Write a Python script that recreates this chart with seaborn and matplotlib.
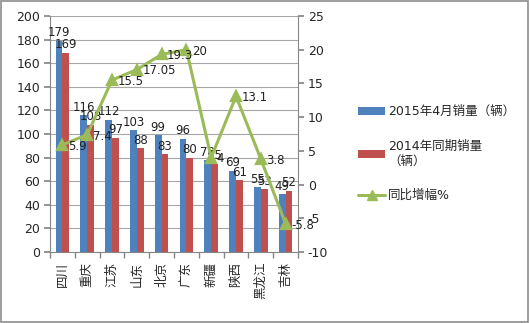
import matplotlib
matplotlib.use("Agg")
import matplotlib.pyplot as plt
import seaborn as sns
import pandas as pd
from matplotlib.patches import Rectangle
from matplotlib.lines import Line2D
from matplotlib.patches import Patch

cities = ["四川", "重庆", "江苏", "山东", "北京", "广东", "新疆", "陕西", "黑龙江", "吉林"]
sales_2015 = [179, 116, 112, 103, 99, 96, 78, 69, 55, 49]
sales_2014 = [169, 108, 97, 88, 83, 80, 75, 61, 53, 52]
growth = [5.9, 7.4, 15.5, 17.05, 19.3, 20, 4, 13.1, 3.8, -5.8]
growth_labels = ["5.9", "7.4", "15.5", "17.05", "19.3", "20", "4", "13.1", "3.8", "-5.8"]
series_names = ["2015年4月销量（辆）", "2014年同期销量\n（辆）", "同比增幅%"]

blue = "#4F81BD"
red = "#C0504D"
green = "#9BBB59"

sns.set_theme(style="white")
plt.rcParams["font.family"] = ["DejaVu Sans", "Noto Sans CJK SC"]
plt.rcParams["axes.unicode_minus"] = False

df = pd.DataFrame({
    "city": cities * 2,
    "value": sales_2015 + sales_2014,
    "series": [series_names[0]] * len(cities) + [series_names[1]] * len(cities),
})

fig = plt.figure(figsize=(5.30, 3.23), dpi=100)
ax = fig.add_axes([50 / 530, 1 - 252 / 323, 248 / 530, 236 / 323])

sns.barplot(data=df, x="city", y="value", hue="series", order=cities,
            hue_order=series_names[:2], palette=[blue, red], width=0.55,
            linewidth=0, saturation=1, ax=ax, legend=False)

fs = 8.5
for cont in ax.containers:
    ax.bar_label(cont, fontsize=fs, padding=1, color="#222222")

ax.set_ylim(0, 200)
ax.set_yticks(range(0, 201, 20))
ax.set_xlim(-0.5, len(cities) - 0.5)
ax.set_xlabel("")
ax.set_ylabel("")
ax.yaxis.grid(True, color="#A6A6A6", linewidth=0.8)
ax.set_axisbelow(True)
ax.set_xticks(range(len(cities)))
ax.set_xticklabels(cities, rotation=90, fontsize=fs + 0.5, va="top",
                   family=["Noto Sans CJK SC", "DejaVu Sans"])
ax.set_xticks([i + 0.5 for i in range(-1, len(cities))], minor=True)
ax.tick_params(axis="x", which="major", length=0, pad=7)
ax.tick_params(axis="x", which="minor", length=4, color="#868686", direction="out", bottom=True)
ax.tick_params(axis="y", length=4, color="#868686", direction="out", left=True, labelsize=fs + 0.5, pad=3)
for s in ["top", "right"]:
    ax.spines[s].set_visible(False)
for s in ["left", "bottom"]:
    ax.spines[s].set_color("#868686")
    ax.spines[s].set_linewidth(0.8)

ax2 = ax.twinx()
sns.pointplot(x=cities, y=growth, order=cities, color=green, markers="^",
              linestyles="-", ax=ax2, markersize=7, linewidth=2.2)
ax2.set_ylim(-10, 25)
ax2.set_yticks(range(-10, 26, 5))
ax2.set_xlim(-0.5, len(cities) - 0.5)
ax2.grid(False)
for i, (g, t) in enumerate(zip(growth, growth_labels)):
    ax2.annotate(t, (i, g), xytext=(4, -1), textcoords="offset points",
                 ha="left", va="center", fontsize=fs, color="#222222")
ax2.tick_params(axis="y", length=4, color="#868686", direction="out", right=True, labelsize=fs + 0.5, pad=3)
for s in ["top", "left", "bottom"]:
    ax2.spines[s].set_visible(False)
ax2.spines["right"].set_color("#868686")
ax2.spines["right"].set_linewidth(0.8)

handles = [
    Patch(facecolor=blue, edgecolor="none"),
    Patch(facecolor=red, edgecolor="none"),
    Line2D([0], [0], color=green, marker="^", markersize=7, linewidth=2.2),
]
fig.legend(handles, series_names, loc="center left", bbox_to_anchor=(0.655, 0.525),
           frameon=False, fontsize=9, handlelength=2.1, handleheight=0.55,
           labelspacing=1.7, handletextpad=0.3)

fig.patches.append(Rectangle((0.002, 0.003), 0.995, 0.994, transform=fig.transFigure,
                             fill=False, edgecolor="#8C8C8C", linewidth=1.2))

fig.savefig("out.png", dpi=100)
